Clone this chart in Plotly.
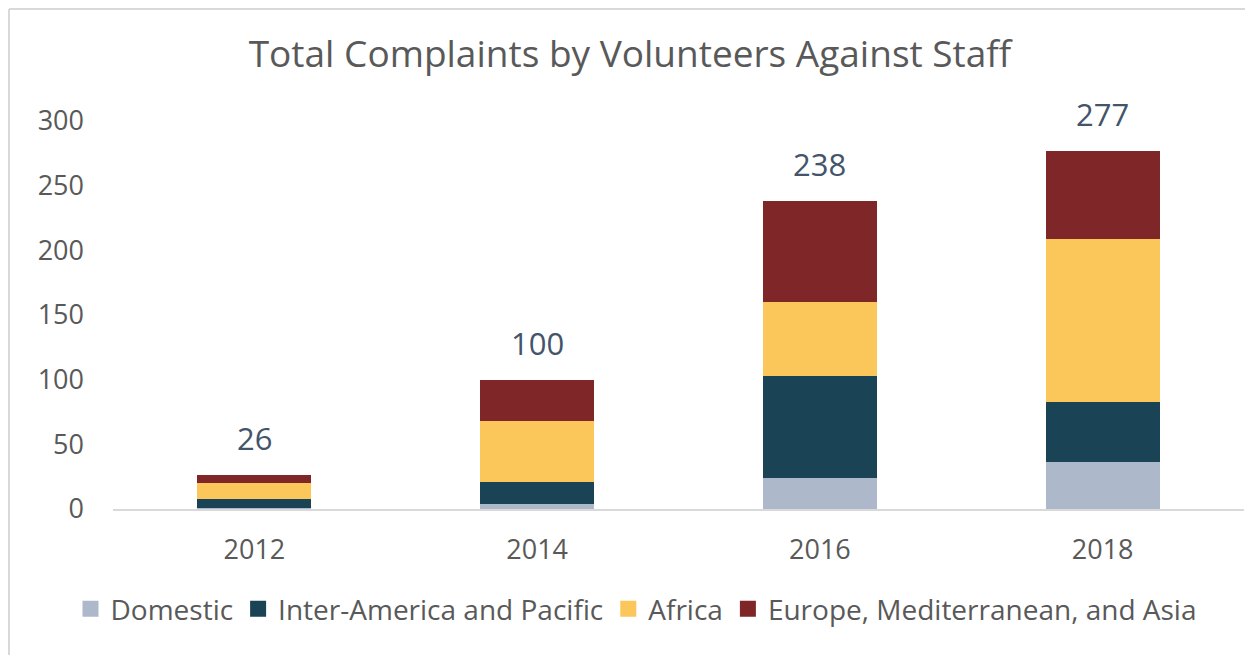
import plotly.graph_objects as go

years = [2012, 2014, 2016, 2018]
year_labels = ["2012", "2014", "2016", "2018"]
series_names = ["Domestic", "Inter-America and Pacific", "Africa", "Europe, Mediterranean, and Asia"]
domestic = [1, 4, 24, 36]
inter_america = [7, 17, 79, 47]
africa = [12, 47, 57, 126]
europe = [6, 32, 78, 68]
colors = ["#ADB9CA", "#1A4356", "#FBC75A", "#7F2629"]
y_ticks = [0, 50, 100, 150, 200, 250, 300]

values = [domestic, inter_america, africa, europe]
totals = [sum(v) for v in zip(*values)]

FONT = "Open Sans"
GREY = "#595959"

W, H = 1245, 647
L, R, T, B = 105, 9, 113, 146
PW, PH = W - L - R, H - T - B

fig = go.Figure()
for name, vals, col in zip(series_names, values, colors):
    fig.add_trace(go.Bar(x=years, y=vals, name=name, width=0.808,
                         marker=dict(color=col, line=dict(width=0)),
                         showlegend=False, hoverinfo="x+y+name"))
for name, col in zip(series_names, colors):
    fig.add_trace(go.Scatter(x=[years[0]], y=[None], mode="markers", name=name,
                             marker=dict(symbol="square", size=16, color=col)))

for yr, tot in zip(years, totals):
    fig.add_annotation(x=yr, y=tot, text=str(tot), showarrow=False, yanchor="bottom", yshift=14,
                       font=dict(family=FONT, size=31, color="#44546A"))

fig.update_layout(
    width=W, height=H, autosize=False,
    margin=dict(l=L, r=R, t=T, b=B, autoexpand=False),
    paper_bgcolor="white", plot_bgcolor="white",
    barmode="stack",
    title=dict(text="Total Complaints by Volunteers Against Staff", x=(630 - 8) / W, xref="container",
               xanchor="center", y=1 - 46 / H, yanchor="middle", font=dict(family=FONT, size=37, color=GREY)),
    font=dict(family=FONT, color=GREY),
    legend=dict(orientation="h", x=(636 - 8 - L) / PW, xanchor="center", y=-100 / PH, yanchor="middle",
                traceorder="normal", font=dict(family=FONT, size=28, color=GREY), itemwidth=30,
                tracegroupgap=0),
    xaxis=dict(range=[2011, 2019], tickvals=years, ticktext=year_labels, showgrid=False, zeroline=False,
               showline=True, linecolor="#D9D9D9", linewidth=2, ticks="",
               tickfont=dict(family=FONT, size=27, color=GREY), ticklabelstandoff=16, fixedrange=True),
    yaxis=dict(range=[0, 300], tickvals=y_ticks, showgrid=False, zeroline=False, showline=False,
               tickfont=dict(family=FONT, size=27, color=GREY), ticklabelstandoff=28, fixedrange=True),
    shapes=[
        dict(type="line", xref="paper", yref="paper", x0=(1 - L) / PW, x1=(W - L) / PW,
             y0=(PH + T - 1) / PH, y1=(PH + T - 1) / PH, line=dict(color="#D9D9D9", width=2)),
        dict(type="line", xref="paper", yref="paper", x0=(1 - L) / PW, x1=(1 - L) / PW,
             y0=(PH + T - 1) / PH, y1=-B / PH, line=dict(color="#D9D9D9", width=2)),
    ],
)

fig.write_html("out.html")
